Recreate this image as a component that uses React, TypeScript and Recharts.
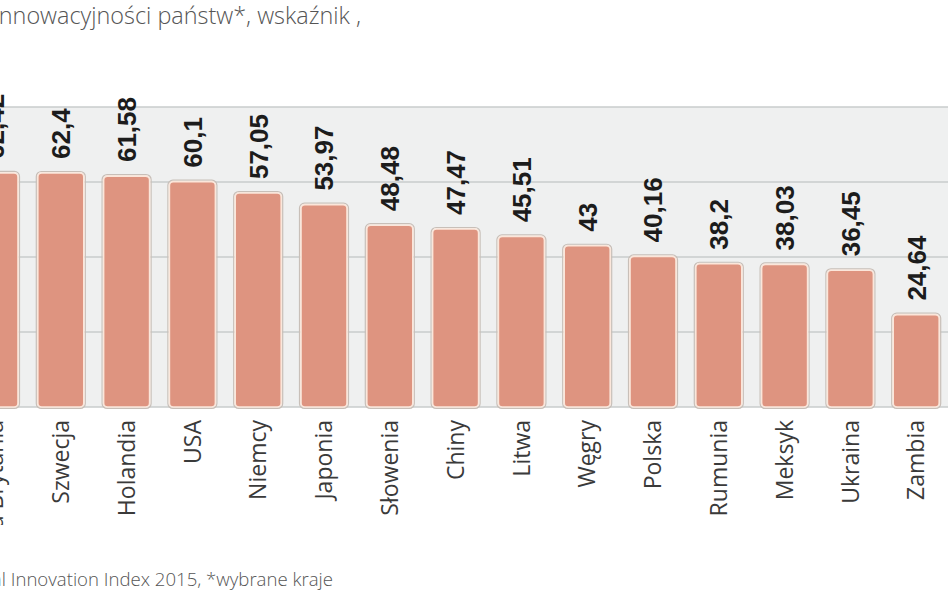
import React from 'react';
import { BarChart, Bar, XAxis, YAxis, CartesianGrid, LabelList } from 'recharts';

const categories = ['Wielka Brytania', 'Szwecja', 'Holandia', 'USA', 'Niemcy', 'Japonia', 'Słowenia', 'Chiny', 'Litwa', 'Węgry', 'Polska', 'Rumunia', 'Meksyk', 'Ukraina', 'Zambia'];
const values = [62.42, 62.4, 61.58, 60.1, 57.05, 53.97, 48.48, 47.47, 45.51, 43, 40.16, 38.2, 38.03, 36.45, 24.64];
const yTicks = [0, 20, 40, 60, 80];

const titleText = 'Ranking innowacyjności państw*, wskaźnik ,';
const footerText = 'Źródło: Global Innovation Index 2015, *wybrane kraje';

const data = categories.map((name, i) => ({ name, value: values[i] }));

const fmt = (v: number) => String(v).replace('.', ',');

const CategoryTick = (props: any) => {
  const { x, y, payload } = props;
  return (
    <g transform={`translate(${x},${y + 5}) rotate(-90)`}>
      <text x={0} y={0} dy="0.36em" textAnchor="end" fontFamily="'Open Sans', 'Noto Sans', sans-serif" fontSize={23} fill="#3a3a3a">
        {payload.value}
      </text>
    </g>
  );
};

const ValueLabel = (props: any) => {
  const { x, y, width, value } = props;
  const cx = x + width / 2;
  return (
    <g transform={`translate(${cx},${y - 14}) rotate(-90)`}>
      <text x={0} y={0} dy="0.36em" textAnchor="start" fontFamily="'Liberation Sans', Arial, sans-serif" fontWeight="bold" fontSize={26} fill="#1c1c1c">
        {fmt(value)}
      </text>
    </g>
  );
};

const BarShape = (props: any) => {
  const { x, y, width, height } = props;
  if (height <= 0) return null;
  return (
    <g>
      <rect x={x - 1.5} y={y - 1.5} width={width + 3} height={height + 3} rx={5} ry={5} fill="none" stroke="#c8bfb8" strokeWidth={1.2} />
      <rect x={x} y={y} width={width} height={height} rx={4} ry={4} fill="#de9480" stroke="#fbe6da" strokeWidth={1.6} />
    </g>
  );
};

export default function App() {
  return (
    <div style={{ position: 'fixed', left: 0, top: 0, width: 948, height: 593, overflow: 'hidden', background: '#ffffff' }}>
      <div style={{ position: 'absolute', left: -38, top: 0 }}>
        <BarChart width={987} height={525} data={data} margin={{ top: 107, right: 0, left: 0, bottom: 0 }} barSize={46}>
          <CartesianGrid vertical={false} fill="#eff0f0" stroke="#c9cccc" strokeWidth={1.5} />
          <XAxis dataKey="name" interval={0} height={118} axisLine={false} tickLine={false} tick={<CategoryTick />} />
          <YAxis hide domain={[0, 80]} ticks={yTicks} />
          <Bar dataKey="value" isAnimationActive={false} shape={<BarShape />}>
            <LabelList dataKey="value" content={<ValueLabel />} />
          </Bar>
        </BarChart>
      </div>
      <svg width={948} height={593} style={{ position: 'absolute', left: 0, top: 0, pointerEvents: 'none' }}>
        <text x={361} y={24} textAnchor="end" fontFamily="'Open Sans', 'Noto Sans', sans-serif" fontWeight={300} fontSize={23.4} fill="#555555">
          {titleText}
        </text>
        <text x={333} y={586} textAnchor="end" fontFamily="'Open Sans', 'Noto Sans', sans-serif" fontWeight={300} fontSize={18.6} fill="#555555">
          {footerText}
        </text>
      </svg>
    </div>
  );
}
